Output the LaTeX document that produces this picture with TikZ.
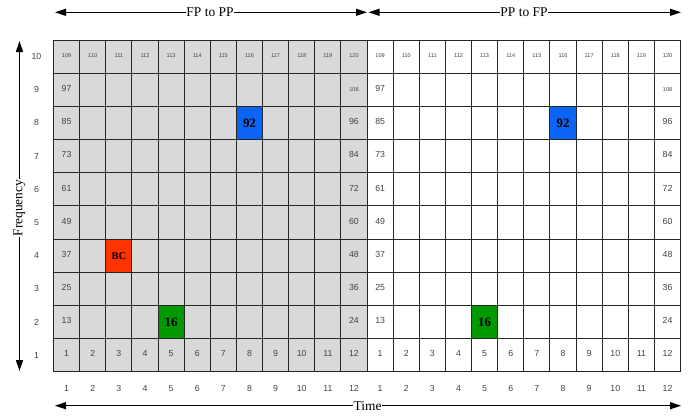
\documentclass[tikz,border=0pt]{standalone}
\usepackage{fontspec}
\setmainfont{Liberation Serif}
\newfontfamily\arialf{Liberation Sans}
\usetikzlibrary{arrows.meta}
\definecolor{cellgray}{HTML}{D9D9D9}
\definecolor{hblue}{HTML}{0A64F5}
\definecolor{hred}{HTML}{FF3300}
\definecolor{hgreen}{HTML}{009A00}
\definecolor{numgray}{HTML}{444444}
\newcommand{\normalcell}{\arialf\fontsize{8.8}{9}\selectfont}
\newcommand{\smallcell}{\arialf\fontsize{5.6}{7}\selectfont}
\begin{document}
\begin{tikzpicture}[x=1bp,y=-1bp,
  cell/.style={draw=black!85, line width=1bp, minimum width=26.13bp, minimum height=33.17bp, inner sep=0pt, text=numgray},
  hl/.style={draw=black!85, line width=1bp, minimum width=26.13bp, minimum height=33.17bp, inner sep=0pt, text=black, font=\bfseries\fontsize{13}{13}\selectfont},
  axlab/.style={text=numgray, font=\normalcell, inner sep=0pt},
  dimarrow/.style={line width=1.3bp, {Triangle[length=11bp,width=7bp]}-{Triangle[length=11bp,width=7bp]}},
  title/.style={fill=white, inner sep=0.5pt, font=\fontsize{13.5}{14}\selectfont}]
\useasboundingbox (0,0) rectangle (700,416);
% grid cells
\foreach \c in {1,...,24}{
  \foreach \r in {1,...,10}{
    \pgfmathtruncatemacro{\cc}{\c>12 ? \c-12 : \c}
    \pgfmathtruncatemacro{\half}{\c>12 ? 2 : 1}
    \def\lab{}
    \def\fnt{\normalcell}
    \ifnum\r=1 \edef\lab{\cc}\fi
    \ifnum\r=10 \pgfmathtruncatemacro{\v}{108+\cc}\edef\lab{\v}\def\fnt{\smallcell}\fi
    \ifnum\r>1 \ifnum\r<10
      \ifnum\cc=1 \pgfmathtruncatemacro{\v}{12*(\r-1)+1}\edef\lab{\v}\fi
      \ifnum\cc=12 \pgfmathtruncatemacro{\v}{12*\r}\edef\lab{\v}\ifnum\r=9 \def\fnt{\smallcell}\fi\fi
    \fi\fi
    \ifnum\c>12 \def\fil{white}\else\def\fil{cellgray}\fi
    \node[cell, fill=\fil] (g\half-\r-\cc) at ({53.5+(\c-0.5)*26.13},{40+(10.5-\r)*33.17}) {\fnt\strut\lab};
  }
}
% highlighted cells
\node[hl, fill=hblue] (b1) at (g1-8-8) {92};
\node[hl, fill=hblue] (b2) at (g2-8-8) {92};
\node[hl, fill=hred, font=\bfseries\fontsize{10.5}{11}\selectfont] (bc) at (g1-4-3) {BC};
\node[hl, fill=hgreen] (s1) at (g1-2-5) {16};
\node[hl, fill=hgreen] (s2) at (g2-2-5) {16};
% row labels
\foreach \r in {1,...,10}{
  \node[axlab] (row\r) at ({36.5},{40+(10.5-\r)*33.17}) {\r};
}
% column labels
\foreach \c in {1,...,24}{
  \pgfmathtruncatemacro{\cc}{\c>12 ? \c-12 : \c}
  \node[axlab] (col\c) at ({53.5+(\c-0.5)*26.13},388.3) {\cc};
}
% arrows
\coordinate (t1) at (55,12.3);
\coordinate (t2) at (367,12.3);
\coordinate (t3) at (368.5,12.3);
\coordinate (t4) at (681,12.3);
\draw[dimarrow] (t1) -- (t2);
\draw[dimarrow] (t3) -- (t4);
\node[title] (fp) at (210,12.3) {FP to PP};
\node[title] (pp) at (524,12.3) {PP to FP};
\coordinate (b1a) at (55,405.7);
\coordinate (b2a) at (681,405.7);
\draw[dimarrow] (b1a) -- (b2a);
\node[title] (time) at (367.5,405.7) {Time};
\coordinate (v1) at (19.5,41);
\coordinate (v2) at (19.5,371);
\draw[dimarrow] (v1) -- (v2);
\node[title, rotate=90] (freq) at (19.5,208) {Frequency};
\end{tikzpicture}
\end{document}
